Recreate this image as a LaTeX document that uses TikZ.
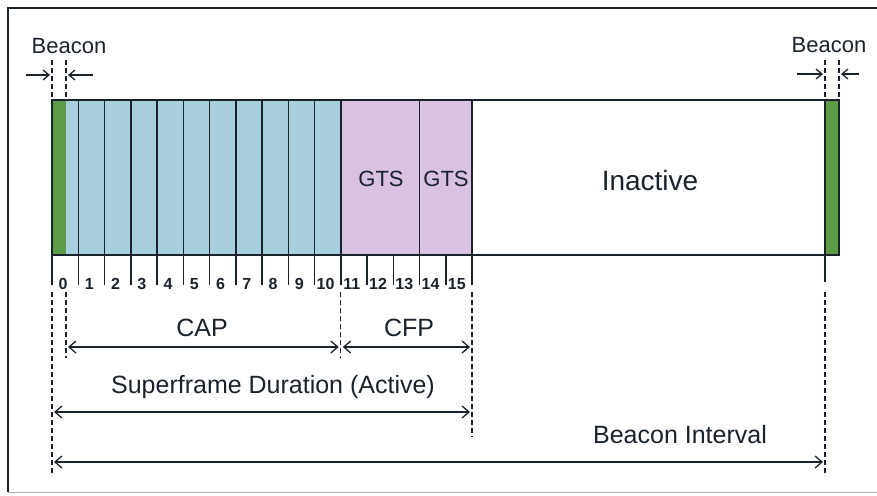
\documentclass[tikz,border=0pt]{standalone}
\usepackage{fontspec}
\setmainfont{Liberation Sans}
\usepackage{xcolor}
\usepackage{tikz}
\usetikzlibrary{arrows.meta}
\definecolor{ink}{HTML}{1A222C}
\definecolor{beacongreen}{HTML}{5E9B48}
\definecolor{capblue}{HTML}{A8CFDD}
\definecolor{gtspink}{HTML}{D9C1E1}

\begin{document}
\begin{tikzpicture}[x=1pt, y=-1pt,
  lbl/.style={font=\fontsize{22}{24}\selectfont, text=ink, inner sep=0pt},
  mid/.style={font=\fontsize{25}{27}\selectfont, text=ink, inner sep=0pt},
  big/.style={font=\fontsize{28}{30}\selectfont, text=ink, inner sep=0pt},
  num/.style={font=\bfseries\fontsize{16}{18}\selectfont, text=ink, inner sep=0pt},
  bar/.style={draw=ink, line width=1.5pt},
  guide/.style={draw=ink, line width=1.3pt, dash pattern=on 5pt off 3pt},
  dimarr/.style={{Straight Barb[length=7pt,width=12pt]}-{Straight Barb[length=7pt,width=12pt]}, draw=ink, line width=1.3pt, shorten <=2pt, shorten >=2pt},
  bmark/.style={-{Straight Barb[length=6pt,width=10pt]}, draw=ink, line width=1.3pt, shorten >=2pt}]
  \useasboundingbox (0,0) rectangle (877,495);
  \draw[ink, line width=1.2pt] (877,8) -- (8,8) -- (8,492);
  \draw[gray!60, line width=0.8pt] (8,492) -- (877,492);

  \foreach \k in {0,...,16} \coordinate (s\k) at ({52+26.25*\k},255);
  \coordinate (b0) at (66,255);
  \coordinate (e0) at (825,255);
  \coordinate (e1) at (839,255);
  \coordinate (top) at (0,100);
  \coordinate (up) at (0,60);
  \coordinate (g) at (0,292);
  \coordinate (capy) at (0,347);
  \coordinate (sdy) at (0,412);
  \coordinate (biy) at (0,462);

  \fill[beacongreen] (s0 |- top) rectangle (b0);
  \fill[capblue] (b0 |- top) rectangle (s11);
  \fill[gtspink] (s11 |- top) rectangle (s16);
  \fill[beacongreen] (e0 |- top) rectangle (e1);
  \draw[bar] (s0 |- top) rectangle (e1);
  \foreach \k in {1,...,11,14,16} \draw[bar] (s\k |- top) -- (s\k);
  \draw[bar] (e0 |- top) -- (e0);

  \foreach \k in {0,...,16} \draw[bar] (s\k) -- ++(0,30);
  \foreach \k in {0,...,15} \path (s\k) ++(11,29) node[num] (n\k) {\k};
  \draw[bar] (e0) -- ++(0,27);

  \node[lbl] (gts1) at (381,179) {GTS};
  \node[lbl] (gts2) at (446,179) {GTS};
  \node[big] (inact) at (650,180) {Inactive};

  \node[lbl] (bl) at (69,46) {Beacon};
  \node[lbl] (br) at (829,45) {Beacon};
  \draw[guide] (s0 |- up) -- (s0 |- top);
  \draw[guide] (b0 |- up) -- (b0 |- top);
  \draw[guide] (e0 |- up) -- (e0 |- top);
  \draw[guide] (e1 |- up) -- (e1 |- top);
  \coordinate (al) at (26,75);
  \coordinate (ar) at (93,75);
  \coordinate (cl) at (797,74);
  \coordinate (cr) at (859,74);
  \draw[bmark] (al) -- (s0 |- al);
  \draw[bmark] (ar) -- (b0 |- ar);
  \draw[bmark] (cl) -- (e0 |- cl);
  \draw[bmark] (cr) -- (e1 |- cr);

  \draw[guide] (s0 |- g) -- (s0 |- 0,476);
  \draw[guide] (b0 |- g) -- (b0 |- 0,358);
  \draw[guide] (s11 |- g) -- (s11 |- 0,358);
  \draw[guide] (s16 |- g) -- (s16 |- 0,437);
  \draw[guide] (e0 |- g) -- (e0 |- 0,476);

  \node[mid] (cap) at (202,328) {CAP};
  \node[mid] (cfp) at (409,328) {CFP};
  \draw[dimarr] (b0 |- capy) -- (s11 |- capy);
  \draw[dimarr] (s11 |- capy) -- (s16 |- capy);
  \node[mid] (sd) at (273,387) {Superframe Duration (Active)};
  \draw[dimarr] (s0 |- sdy) -- (s16 |- sdy);
  \node[mid] (bi) at (680,435) {Beacon Interval};
  \draw[dimarr] (s0 |- biy) -- (e0 |- biy);
\end{tikzpicture}
\end{document}
